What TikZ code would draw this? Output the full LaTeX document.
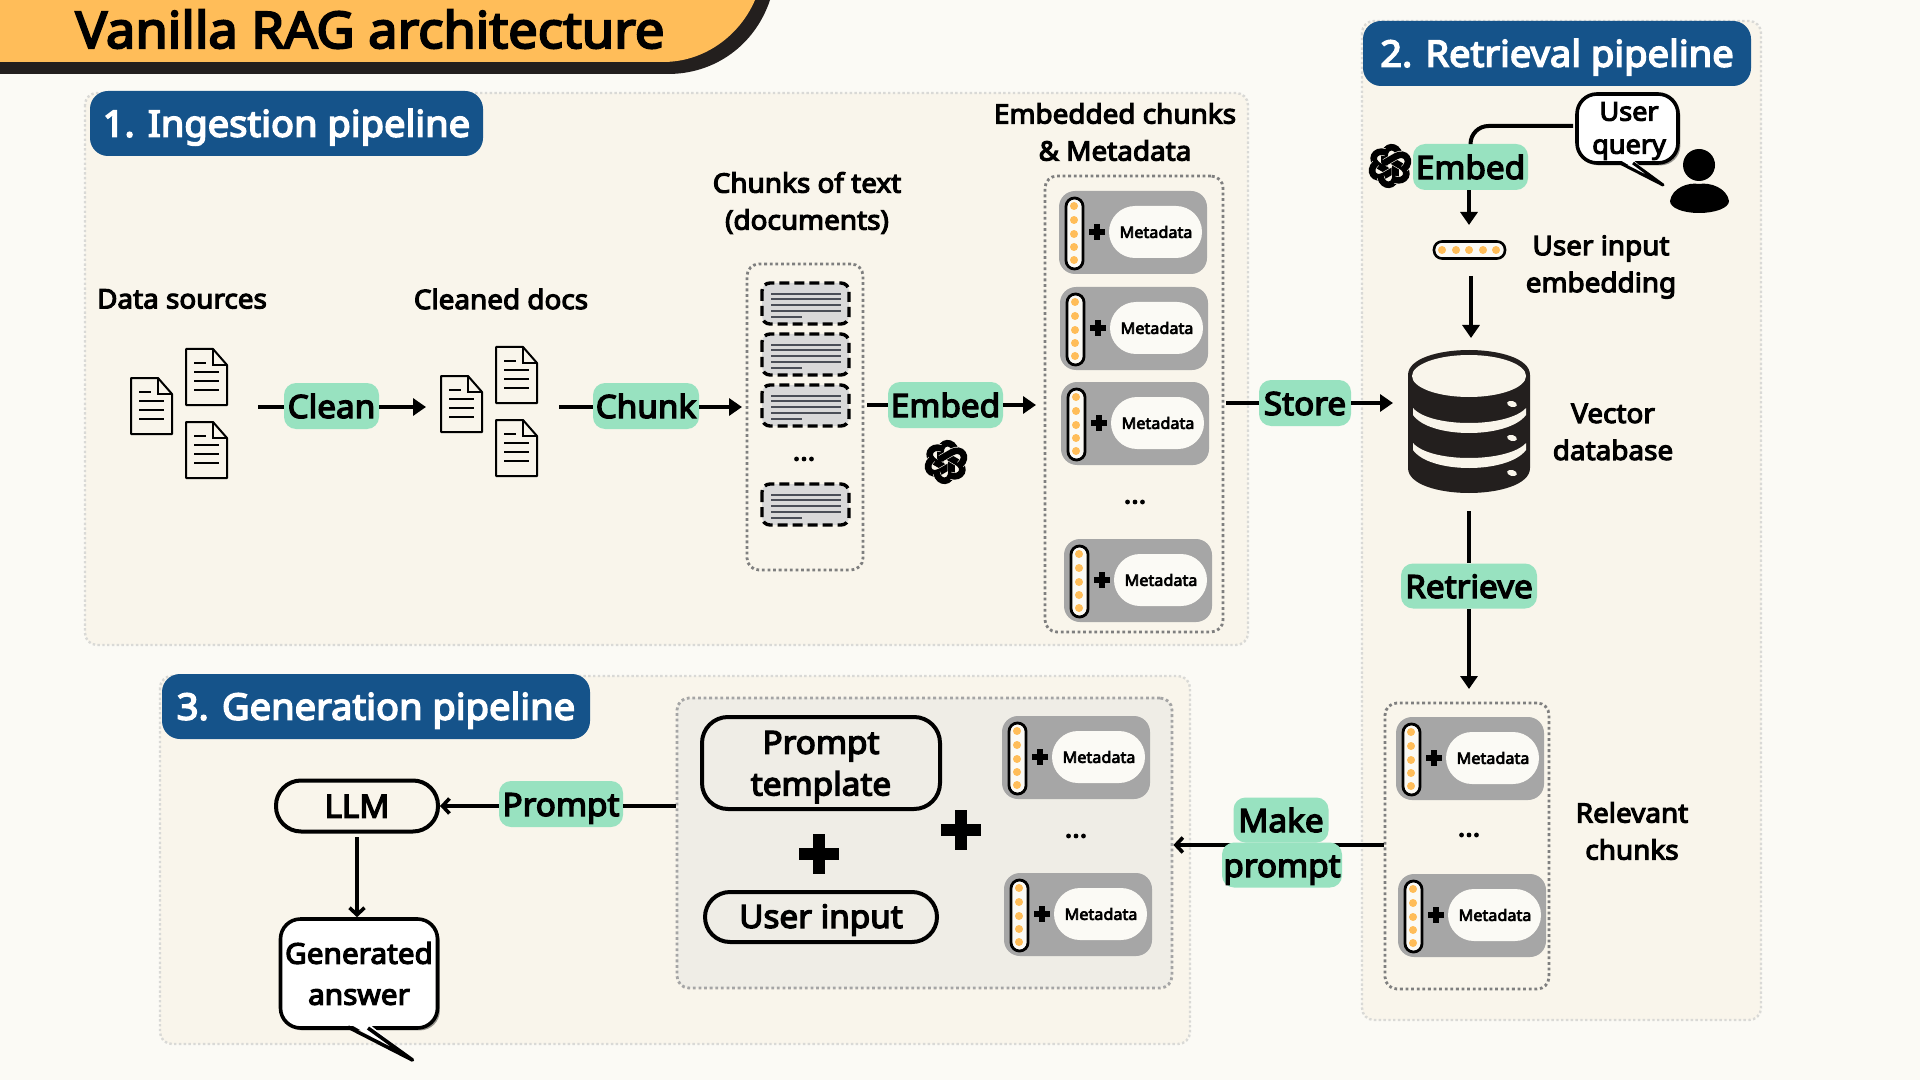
\documentclass[tikz,border=0pt]{standalone}
\usepackage{fontspec}
\setmainfont{Noto Sans}[AutoFakeBold=4.2,FakeStretch=1.04]
\usetikzlibrary{arrows.meta,shadows}

\definecolor{pagebg}{HTML}{FBFAF5}
\definecolor{panelfill}{HTML}{F9F5EB}
\definecolor{panelline}{HTML}{D9D9D6}
\definecolor{genfill}{HTML}{EFEDE6}
\definecolor{headerblue}{HTML}{15538A}
\definecolor{stepgreen}{HTML}{98E2C0}
\definecolor{titleorange}{HTML}{FFBD59}
\definecolor{darkink}{HTML}{231F1E}
\definecolor{cardgrey}{HTML}{A6A6A6}
\definecolor{boxgrey}{HTML}{D9D9D9}
\definecolor{textline}{HTML}{4A4E57}
\definecolor{holderline}{HTML}{7F7F7F}

\tikzset{
	panel/.style={fill=panelfill, draw=panelline, line width=1.2pt, dash pattern=on 1.2pt off 1.2pt, rounded corners=6pt},
	holder/.style={draw=holderline, line width=1.4pt, dash pattern=on 1.4pt off 1.4pt, rounded corners=6pt, inner sep=0pt},
	header/.style={fill=headerblue, text=white, rounded corners=9pt, inner sep=0pt, text height=13.2pt, text depth=0pt, font=\fontsize{18.3}{22}\selectfont\bfseries},
	stepbox/.style={fill=stepgreen, rounded corners=6pt, inner sep=0pt, text height=12pt, text depth=0pt, font=\fontsize{16}{20}\selectfont\bfseries},
	caption/.style={align=center, inner sep=0pt, font=\fontsize{13.4}{18.5}\selectfont\bfseries},
	flow/.style={line width=2.2pt},
	flowtip/.style={line width=2.2pt, -{Triangle[length=6.5pt,width=8.5pt]}},
	flowbarb/.style={line width=2.2pt, -{Straight Barb[length=3.5pt,width=7.5pt,line width=1.8pt]}},
	outline/.style={draw=black, line width=2pt, inner sep=0pt, align=center, font=\fontsize{16}{20.8}\selectfont\bfseries},
	bubble/.style={fill=white, draw=black, line width=1.8pt, rounded corners=10pt, inner sep=0pt, align=center, drop shadow={shadow xshift=1.2pt, shadow yshift=-1.2pt, fill=black, opacity=.4}},
	bigplus/.style={line width=6pt, draw=black},
	docicon/.pic={
		\draw[line width=1pt, fill=panelfill, line join=round] (0,0) -- (27,0) -- (41,16) -- (41,56) -- (0,56) -- cycle;
		\draw[line width=1pt] (27,0) -- (27,16) -- (41,16);
		\draw[line width=1pt] (8,14) -- (20,14);
		\draw[line width=1pt] (8,23) -- (33,23);
		\draw[line width=1pt] (8,32) -- (33,32);
		\draw[line width=1pt] (8,41) -- (33,41);
	},
	textcard/.pic={
		\draw[fill=boxgrey, draw=black, line width=1.7pt, dash pattern=on 5pt off 2.5pt, rounded corners=4pt] (0,0) rectangle (87,41);
		\draw[textline, line width=1.1pt] (9,11) -- (79,11);
		\draw[textline, line width=1.1pt] (9,16) -- (79,16);
		\draw[textline, line width=1.1pt] (9,22) -- (79,22);
		\draw[textline, line width=1.1pt] (9,28) -- (79,28);
		\draw[textline, line width=1.1pt] (9,34) -- (40,34);
	},
	metacard/.pic={
		% grey card, embedding bar and metadata pill
		\fill[cardgrey, rounded corners=8pt] (0,0) rectangle (148,83);
		\draw[fill=pagebg, draw=black, line width=1.4pt, rounded corners=4.2pt] (7,7) rectangle (24,78);
		\fill[titleorange] (15,15) circle [radius=4];
		\fill[titleorange] (15,29) circle [radius=4];
		\fill[titleorange] (15,43) circle [radius=4];
		\fill[titleorange] (15,56) circle [radius=4];
		\fill[titleorange] (15,69) circle [radius=4];
		\draw[line width=2.6pt] (30,41) -- (46,41);
		\draw[line width=2.6pt] (38,33) -- (38,49);
		\fill[pagebg, rounded corners=13pt] (50,15) rectangle (143,67);
		\node[inner sep=0pt, font=\fontsize{7.8}{9}\selectfont\bfseries] (-text) at (97,41) {Metadata};
	},
	logopetal/.pic={
		\draw[panelfill, line width=3.9pt] (-5.5,3) -- (-5.5,-10) .. controls (-5.5,-21) and (7,-22) .. (9.5,-11);
		\draw[black, line width=3.3pt, line cap=round] (-5.5,3) -- (-5.5,-10) .. controls (-5.5,-21) and (7,-22) .. (9.5,-11);
	},
	logoknot/.pic={
		\pic[rotate=0] {logopetal};
		\pic[rotate=60] {logopetal};
		\pic[rotate=120] {logopetal};
		\pic[rotate=180] {logopetal};
		\pic[rotate=240] {logopetal};
		\pic[rotate=300] {logopetal};
	},
}

\begin{document}
\begin{tikzpicture}[x=0.5pt, y=-0.5pt]
	\useasboundingbox (0,0) rectangle (1920,1080);
	\fill[pagebg] (0,0) rectangle (1920,1080);

	% Draw the title banner
	\fill[darkink] (0,0) -- (770,0) .. controls (755,45) and (715,74) .. (668,74) -- (0,74) -- cycle;
	\fill[titleorange] (0,0) -- (755,0) .. controls (740,35) and (705,62) .. (663,62) -- (0,62) -- cycle;
	\node[anchor=base, inner sep=0pt, font=\fontsize{25.2}{28}\selectfont\bfseries] (title) at (370,48) {Vanilla RAG architecture};

	% Draw the three panels
	\draw[panel] (85,93) rectangle (1248,645);
	\draw[panel] (1362,21) rectangle (1761,1020);
	\draw[panel] (160,676) rectangle (1190,1044);

	\node[header, minimum width=196.5pt, minimum height=32.5pt] (ingesthead) at (286.5,123.5) {1. Ingestion pipeline};
	\node[header, minimum width=194pt, minimum height=32.5pt] (retrievehead) at (1557,53.5) {2. Retrieval pipeline};
	\node[header, minimum width=214pt, minimum height=32.5pt] (generatehead) at (376,706.5) {3. Generation pipeline};

	% Draw the ingestion pipeline
	\node[caption] (sourcescap) at (182,299) {Data sources};
	\node[caption] (cleanedcap) at (501,299) {Cleaned docs};
	\node[caption] (chunkscap) at (807,203) {Chunks of text\\(documents)};
	\node[caption] (embeddedcap) at (1115,132) {Embedded chunks\\\& Metadata};

	\pic at (131,378) {docicon};
	\pic at (186,349) {docicon};
	\pic at (186,422) {docicon};
	\pic at (441,376) {docicon};
	\pic at (496,347) {docicon};
	\pic at (496,420) {docicon};

	\node[holder, minimum width=58pt, minimum height=153pt] (chunkholder) at (805,417) {};
	\pic at (762,283) {textcard};
	\pic at (762,334) {textcard};
	\pic at (762,385) {textcard};
	\pic at (762,484) {textcard};
	\node[caption] (chunkdots) at (804,459) {...};

	\node[holder, minimum width=89pt, minimum height=228pt] (embedholder) at (1134,404) {};
	\pic (cardA) at (1059,191) {metacard};
	\pic (cardB) at (1060,287) {metacard};
	\pic (cardC) at (1061,382) {metacard};
	\pic (cardD) at (1064,539) {metacard};
	\node[caption] (embeddots) at (1135,502) {...};

	\node[stepbox, minimum width=47.5pt, minimum height=23pt] (clean) at (331.5,406) {Clean};
	\node[stepbox, minimum width=53pt, minimum height=23pt] (chunk) at (646,406) {Chunk};
	\node[stepbox, minimum width=57.5pt, minimum height=23pt] (embed) at (945.5,405) {Embed};
	\node[stepbox, minimum width=46pt, minimum height=23pt] (store) at (1305,403) {Store};

	\coordinate (sourcesend) at (258,407);
	\coordinate (cleanedin) at (426,407);
	\coordinate (cleanedend) at (559,407);
	\coordinate (chunkin) at (742,407);
	\coordinate (chunkend) at (867,405);
	\coordinate (embedin) at (1036,405);
	\coordinate (embedend) at (1226,403);
	\coordinate (storein) at (1393,403);

	\draw[flow] (sourcesend) -- (clean.west |- sourcesend);
	\draw[flowtip] (clean.east |- cleanedin) -- (cleanedin);
	\draw[flow] (cleanedend) -- (chunk.west |- cleanedend);
	\draw[flowtip] (chunk.east |- chunkin) -- (chunkin);
	\draw[flow] (chunkend) -- (embed);
	\draw[flowtip] (embed) -- (embedin);
	\draw[flow] (embedend) -- (store);
	\draw[flowtip] (store) -- (storein);

	\pic at (946,462) {logoknot};

	% Draw the retrieval pipeline
	\node[bubble, minimum width=50.5pt, minimum height=34.5pt] (query) at (1627.5,128.5) {};
	\node[inner sep=0pt, align=center, font=\fontsize{13}{16.5}\selectfont\bfseries] (querytext) at (1629,131) {User\\query};
	\coordinate (querytip) at (1663,185);
	\fill[white] (1620,160) -- (querytip) -- (1633,160) -- cycle;
	\draw[line width=1.5pt, line join=round] (1620,163) -- (querytip) -- (1633,163);

	\fill (1699,165) circle [radius=16];
	\fill (1670,201) .. controls (1672,188) and (1688,182) .. (1699,184) .. controls (1710,182) and (1727,188) .. (1729,201) .. controls (1729,208) and (1715,213) .. (1699,213) .. controls (1683,213) and (1670,208) .. (1670,201) -- cycle;

	\node[stepbox, minimum width=57.5pt, minimum height=23pt] (embedq) at (1470.5,167) {Embed};
	\pic at (1390,166) {logoknot};

	\coordinate (querystart) at (1573,126);
	\draw[line width=2pt, rounded corners=9pt] (querystart) -| (embedq);

	\node[draw=black, fill=pagebg, line width=1.3pt, rounded corners=4pt, minimum width=35.5pt, minimum height=8.5pt, inner sep=0pt] (inputbar) at (1469.5,250) {};
	\fill[titleorange] (1442,250) circle [radius=4];
	\fill[titleorange] (1456,250) circle [radius=4];
	\fill[titleorange] (1469,250) circle [radius=4];
	\fill[titleorange] (1483,250) circle [radius=4];
	\fill[titleorange] (1496,250) circle [radius=4];

	\coordinate (barin) at (1469,225);
	\coordinate (barout) at (1471,276);
	\coordinate (dbin) at (1471,338);
	\draw[flowtip] (embedq.south -| barin) -- (barin);
	\draw[flowtip] (barout) -- (dbin);

	\node[caption] (inputcap) at (1601,267) {User input\\embedding};
	\node[caption] (vectorcap) at (1613,432) {Vector\\database};

	% Draw the database
	\fill[darkink] (1408,375) -- (1408,468) .. controls (1408,485) and (1440,493) .. (1469,493) .. controls (1498,493) and (1530,485) .. (1530,468) -- (1530,375) .. controls (1530,358) and (1498,350) .. (1469,350) .. controls (1440,350) and (1408,358) .. (1408,375) -- cycle;
	\fill[panelfill] (1469,376) ellipse [x radius=57, y radius=21];
	\fill[panelfill] (1413,408) .. controls (1430,428) and (1508,428) .. (1526,408) -- (1526,415) .. controls (1508,439) and (1430,439) .. (1413,415) -- cycle;
	\fill[panelfill] (1413,443) .. controls (1430,463) and (1508,463) .. (1526,443) -- (1526,450) .. controls (1508,474) and (1430,474) .. (1413,450) -- cycle;
	\fill[panelfill, rotate around={-15:(1512,404)}] (1512,404) ellipse [x radius=5, y radius=3];
	\fill[panelfill, rotate around={-15:(1512,438)}] (1512,438) ellipse [x radius=5, y radius=3];
	\fill[panelfill, rotate around={-15:(1512,473)}] (1512,473) ellipse [x radius=5, y radius=3];

	\node[stepbox, minimum width=68pt, minimum height=22.5pt] (retrieve) at (1469,586) {Retrieve};
	\coordinate (dbout) at (1469,511);
	\coordinate (relevantin) at (1469,689);
	\draw[flow] (dbout) -- (retrieve);
	\draw[flowtip] (retrieve) -- (relevantin);

	\node[holder, minimum width=82pt, minimum height=143pt] (relevantholder) at (1467,846) {};
	\pic (cardE) at (1396,717) {metacard};
	\pic (cardF) at (1398,874) {metacard};
	\node[caption] (relevantdots) at (1469,835) {...};
	\node[caption] (relevantcap) at (1632,831) {Relevant\\chunks};

	% Draw the generation pipeline
	\node[holder, fill=genfill, draw=holderline!70, minimum width=247.5pt, minimum height=145pt] (genholder) at (924.5,843) {};
	\draw[draw=black, line width=2pt, rounded corners=13pt] (702,717) rectangle (940,809);
	\node[inner sep=0pt, align=center, font=\fontsize{16}{20.8}\selectfont\bfseries] (template) at (821,767) {Prompt\\template};
	\node[outline, rounded corners=12.5pt, minimum width=116pt, minimum height=25pt, text height=10.9pt, text depth=0pt] (userinput) at (821,917) {User input};
	\draw[bigplus] (799,854) -- (839,854);
	\draw[bigplus] (819,834) -- (819,874);
	\draw[bigplus] (941,830) -- (981,830);
	\draw[bigplus] (961,810) -- (961,850);
	\pic (cardG) at (1002,716) {metacard};
	\pic (cardH) at (1004,873) {metacard};
	\node[caption] (gendots) at (1076,836) {...};

	\coordinate (makecentre) at (1282,845);
	\draw[flow] (relevantholder.west |- makecentre) -- (makecentre);
	\draw[flowbarb] (makecentre) -- (genholder.east |- makecentre);
	\node[stepbox, minimum width=47.5pt, minimum height=22.5pt] (makeword) at (1281,820) {Make};
	\node[stepbox, minimum width=60pt, minimum height=22.5pt] (promptword) at (1282,865) {prompt};

	\node[stepbox, minimum width=62pt, minimum height=23pt] (prompt) at (561,804) {Prompt};
	\node[outline, rounded corners=12.5pt, minimum width=81pt, minimum height=25.5pt, text height=11.6pt, text depth=0pt] (llm) at (357,806) {LLM};
	\draw[flow] (genholder.west |- llm) -- (prompt.east |- llm);
	\draw[flowbarb] (prompt.west |- llm) -- (llm);

	\node[bubble, minimum width=78.5pt, minimum height=54.5pt, font=\fontsize{14.3}{20.5}\selectfont\bfseries] (answer) at (359,973.5) {Generated\\answer};
	\coordinate (answertip) at (412.5,1060);
	\coordinate (llmout) at (357,837);
	\fill[white] (348,1023) -- (answertip) -- (368,1023) -- cycle;
	\draw[line width=1.8pt, line join=round] (348,1027) -- (answertip) -- (368,1028);
	\draw[flowbarb] (llmout) -- (llmout |- answer.north);
\end{tikzpicture}
\end{document}
